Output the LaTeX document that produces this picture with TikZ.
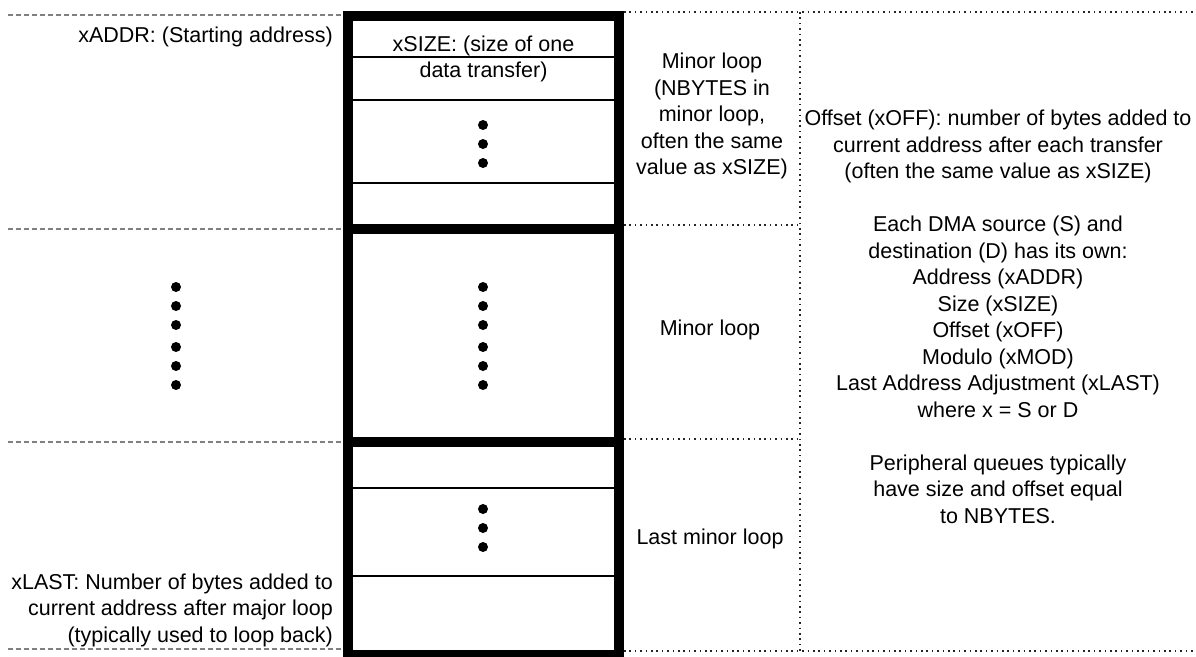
\documentclass[tikz,border=0pt]{standalone}
\usepackage{fontspec}
\setmainfont{Liberation Sans}
\begin{document}
\begin{tikzpicture}[x=1pt,y=-1pt,
  txt/.style={font=\fontsize{21.5}{26.5}\selectfont, inner sep=0pt, align=center},
  thickbox/.style={line width=10pt},
  thinline/.style={line width=1.3pt},
  leftdash/.style={draw=black!50, line width=1.2pt, dash pattern=on 5pt off 3pt},
  rightdot/.style={draw=black!85, line width=1.6pt, dash pattern=on 1.6pt off 3.8pt},
  bigdot/.style={circle, fill=black, inner sep=0pt, minimum size=10pt}]
\clip (0,0) rectangle (1196,656);
\fill[white] (0,0) rectangle (1196,656);

% left dashed guide lines
\foreach \yy in {15,229,442,649}{
  \draw[leftdash] (8,\yy) -- (343,\yy);
}

% right dotted frame
\draw[rightdot] (624,12) -- (1196,12);
\draw[rightdot] (624,651) -- (1196,651);
\draw[rightdot] (800,12) -- (800,651);
\draw[rightdot] (624,225) -- (800,225);
\draw[rightdot] (624,439) -- (800,439);

% thin inner lines
\foreach \yy in {57,100,183,488,576}{
  \draw[thinline] (353,\yy) -- (614,\yy);
}

% thick boxes
\draw[thickbox] (348,16) rectangle (619,229);
\draw[thickbox] (348,229) rectangle (619,442);
\draw[thickbox] (348,442) rectangle (619,655);

% dots
\foreach \yy [count=\i] in {125,144,163}{
  \node[bigdot] (td\i) at (483,\yy) {};
}
\foreach \yy [count=\i] in {287,306,325,347,366,385}{
  \node[bigdot] (md\i) at (483,\yy) {};
  \node[bigdot] (ld\i) at (176,\yy) {};
}
\foreach \yy [count=\i] in {509,528,547}{
  \node[bigdot] (bd\i) at (483,\yy) {};
}

% texts
\node[txt, anchor=east] (xaddr) at (333,37) {xADDR: (Starting address)};
\node[txt] (xsize) at (483.5,59) {xSIZE: (size of one\\data transfer)};
\node[txt] (minor1) at (712,116) {Minor loop\\(NBYTES in\\minor loop,\\often the same\\value as xSIZE)};
\node[txt] (minor2) at (710,330) {Minor loop};
\node[txt] (lastminor) at (710,539) {Last minor loop};
\node[txt, align=right, anchor=east] (xlast) at (333,610) {xLAST: Number of bytes added to\\current address after major loop\\(typically used to loop back)};
\node[txt] (info) at (998,317) {Offset (xOFF): number of bytes added to\\current address after each transfer\\(often the same value as xSIZE)\\[26.5pt]Each DMA source (S) and\\destination (D) has its own:\\Address (xADDR)\\Size (xSIZE)\\Offset (xOFF)\\Modulo (xMOD)\\Last Address Adjustment (xLAST)\\where x = S or D\\[26.5pt]Peripheral queues typically\\have size and offset equal\\to NBYTES.};
\end{tikzpicture}
\end{document}
